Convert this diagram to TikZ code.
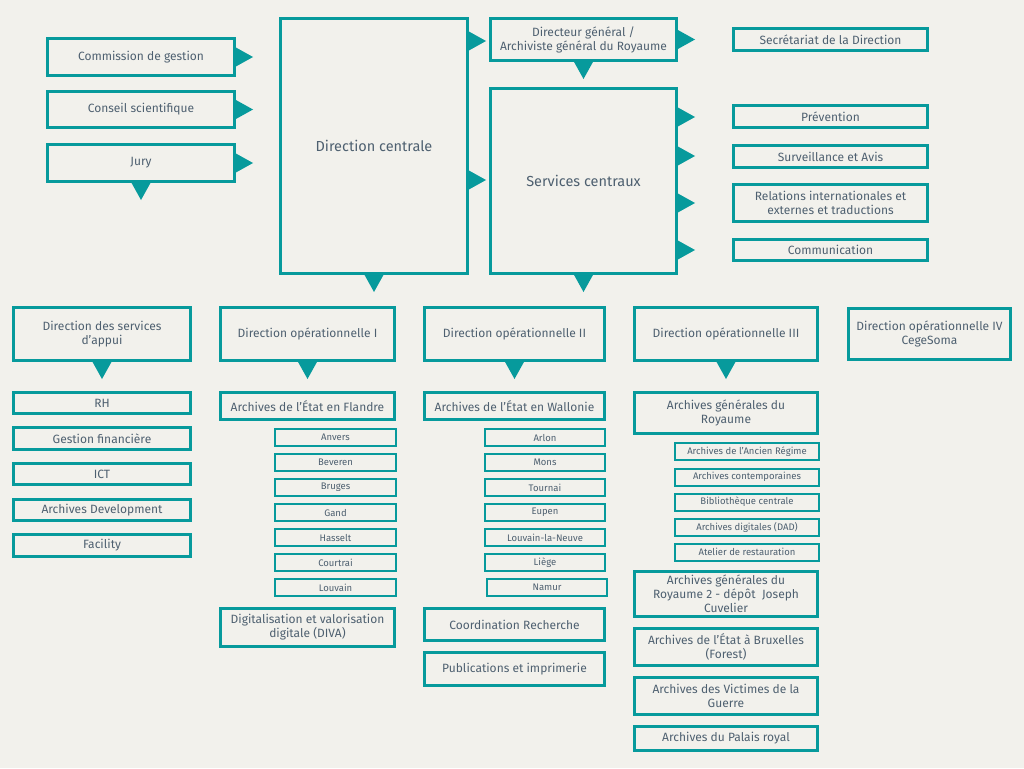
\documentclass[tikz,border=0pt]{standalone}
\usepackage{fontspec}
\setmainfont{Fira Sans}
\definecolor{bgc}{HTML}{F2F1EC}
\definecolor{tealc}{HTML}{079A9C}
\definecolor{ink}{HTML}{4E6070}

\begin{document}
\begin{tikzpicture}[x=1pt, y=-1pt,
  bigbox/.style={draw=tealc, line width=3pt, text=ink, align=center, inner sep=0pt, font=\fontsize{12}{14}\selectfont},
  smallbox/.style={draw=tealc, line width=2pt, text=ink, align=center, inner sep=0pt, minimum height=17pt, font=\fontsize{9.5}{11}\selectfont},
  tipright/.pic={\fill[tealc] ( -1, -10 ) -- ( 17, 0 ) -- ( -1, 10 ) -- cycle;},
  tipdown/.pic={\fill[tealc] ( -10, -1 ) -- ( 0, 17 ) -- ( 10, -1 ) -- cycle;}
]

% Background
\fill[bgc] ( 0, 0 ) rectangle ( 1024, 768 );
\useasboundingbox ( 0, 0 ) rectangle ( 1024, 768 );

% Councils
\node[bigbox, minimum width=187pt, minimum height=37pt] (commission) at ( 141, 57 ) {Commission de gestion};
\node[bigbox, minimum width=187pt, minimum height=36pt] (conseil) at ( 141, 109.5 ) {Conseil scientifique};
\node[bigbox, minimum width=187pt, minimum height=37pt] (jury) at ( 141, 163 ) {Jury};
\pic at (commission.east) {tipright};
\pic at (conseil.east) {tipright};
\pic at (jury.east) {tipright};
\pic at (jury.south) {tipdown};

% Direction centrale
\node[bigbox, minimum width=187pt, minimum height=255pt, font=\fontsize{14.5}{17}\selectfont] (dircentrale) at ( 374, 146 ) {Direction centrale};
\pic at (dircentrale.east |- 0,41) {tipright};
\pic at (dircentrale.east |- 0,180) {tipright};
\pic at (dircentrale.south) {tipdown};

% Directeur general
\node[bigbox, minimum width=186pt, minimum height=42pt] (dirgen) at ( 583.5, 39.5 ) {Directeur général /\\Archiviste général du Royaume};
\pic at (dirgen.east) {tipright};
\pic at (dirgen.south) {tipdown};

% Services centraux
\node[bigbox, minimum width=186pt, minimum height=185pt, font=\fontsize{14.5}{17}\selectfont] (servcentraux) at ( 583.5, 181 ) {Services centraux};
\pic at (servcentraux.east |- 0,117) {tipright};
\pic at (servcentraux.east |- 0,156) {tipright};
\pic at (servcentraux.east |- 0,203) {tipright};
\pic at (servcentraux.east |- 0,250) {tipright};
\pic at (servcentraux.south) {tipdown};

% Right column
\node[bigbox, minimum width=194pt, minimum height=22pt] (secretariat) at ( 830.5, 39.5 ) {Secrétariat de la Direction};
\node[bigbox, minimum width=194pt, minimum height=22pt] (prevention) at ( 830.5, 116.5 ) {Prévention};
\node[bigbox, minimum width=194pt, minimum height=22pt] (surveillance) at ( 830.5, 156.5 ) {Surveillance et Avis};
\node[bigbox, minimum width=194pt, minimum height=37pt] (relations) at ( 830.5, 203 ) {Relations internationales et\\externes et traductions};
\node[bigbox, minimum width=194pt, minimum height=21pt] (communication) at ( 830.5, 250 ) {Communication};

% Directions
\node[bigbox, minimum width=177pt, minimum height=53pt] (dsa) at ( 102, 334 ) {Direction des services\\d'appui};
\node[bigbox, minimum width=174pt, minimum height=53pt] (dop1) at ( 307.5, 334 ) {Direction opérationnelle I};
\node[bigbox, minimum width=180pt, minimum height=53pt] (dop2) at ( 514.5, 334 ) {Direction opérationnelle II};
\node[bigbox, minimum width=183pt, minimum height=53pt] (dop3) at ( 726, 334 ) {Direction opérationnelle III};
\node[bigbox, line width=2.5pt, minimum width=162pt, minimum height=51pt] (dop4) at ( 929.5, 334 ) {Direction opérationnelle IV\\CegeSoma};
\pic at (dsa.south) {tipdown};
\pic at (dop1.south) {tipdown};
\pic at (dop2.south) {tipdown};
\pic at (dop3.south) {tipdown};

% Services d'appui
\node[bigbox, minimum width=177pt, minimum height=21pt] (rh) at ( 102, 403 ) {RH};
\node[bigbox, minimum width=177pt, minimum height=22pt] (finances) at ( 102, 438.5 ) {Gestion financière};
\node[bigbox, minimum width=177pt, minimum height=21pt] (ict) at ( 102, 474 ) {ICT};
\node[bigbox, minimum width=177pt, minimum height=21pt] (archdev) at ( 102, 510 ) {Archives Development};
\node[bigbox, minimum width=177pt, minimum height=22pt] (facility) at ( 102, 545.5 ) {Facility};

% Direction operationnelle I
\node[bigbox, minimum width=174pt, minimum height=27pt] (flandre) at ( 307.5, 406 ) {Archives de l'État en Flandre};
\node[smallbox, minimum width=121pt] (anvers) at ( 335.5, 437.5 ) {Anvers};
\node[smallbox, minimum width=121pt] (beveren) at ( 335.5, 462.5 ) {Beveren};
\node[smallbox, minimum width=121pt] (bruges) at ( 335.5, 487.5 ) {Bruges};
\node[smallbox, minimum width=121pt] (gand) at ( 335.5, 512.5 ) {Gand};
\node[smallbox, minimum width=121pt] (hasselt) at ( 335.5, 537.5 ) {Hasselt};
\node[smallbox, minimum width=121pt] (courtrai) at ( 335.5, 562.5 ) {Courtrai};
\node[smallbox, minimum width=121pt] (louvain) at ( 335.5, 587.5 ) {Louvain};
\node[bigbox, minimum width=174pt, minimum height=38pt] (diva) at ( 307.5, 627.5 ) {Digitalisation et valorisation\\digitale (DIVA)};

% Direction operationnelle II
\node[bigbox, minimum width=180pt, minimum height=27pt] (wallonie) at ( 514.5, 406 ) {Archives de l'État en Wallonie};
\node[smallbox, minimum width=120pt] (arlon) at ( 545, 437.5 ) {Arlon};
\node[smallbox, minimum width=120pt] (mons) at ( 545, 462.5 ) {Mons};
\node[smallbox, minimum width=120pt] (tournai) at ( 545, 487.5 ) {Tournai};
\node[smallbox, minimum width=120pt] (eupen) at ( 545, 512.5 ) {Eupen};
\node[smallbox, minimum width=120pt] (lln) at ( 545, 537.5 ) {Louvain-la-Neuve};
\node[smallbox, minimum width=120pt] (liege) at ( 545, 562.5 ) {Liège};
\node[smallbox, minimum width=120pt] (namur) at ( 547, 587.5 ) {Namur};
\node[bigbox, minimum width=180pt, minimum height=32pt] (coordination) at ( 514.5, 624.5 ) {Coordination Recherche};
\node[bigbox, minimum width=180pt, minimum height=33pt] (publications) at ( 514.5, 669 ) {Publications et imprimerie};

% Direction operationnelle III
\node[bigbox, minimum width=183pt, minimum height=41pt] (agr) at ( 726, 413 ) {Archives générales du\\Royaume};
\node[smallbox, minimum width=144pt] (ancien) at ( 747, 451.5 ) {Archives de l'Ancien Régime};
\node[smallbox, minimum width=144pt] (contemp) at ( 747, 477 ) {Archives contemporaines};
\node[smallbox, minimum width=144pt] (biblio) at ( 747, 502 ) {Bibliothèque centrale};
\node[smallbox, minimum width=144pt] (dad) at ( 747, 527 ) {Archives digitales (DAD)};
\node[smallbox, minimum width=144pt] (atelier) at ( 747, 552 ) {Atelier de restauration};
\node[bigbox, minimum width=183pt, minimum height=45pt] (agrdeux) at ( 726, 594 ) {Archives générales du\\Royaume 2 - dépôt~ Joseph\\Cuvelier};
\node[bigbox, minimum width=183pt, minimum height=37pt] (bruxelles) at ( 726, 647 ) {Archives de l'État à Bruxelles\\(Forest)};
\node[bigbox, minimum width=183pt, minimum height=37pt] (victimes) at ( 726, 696 ) {Archives des Victimes de la\\Guerre};
\node[bigbox, minimum width=183pt, minimum height=24pt] (palais) at ( 726, 738.5 ) {Archives du Palais royal};

\end{tikzpicture}
\end{document}
